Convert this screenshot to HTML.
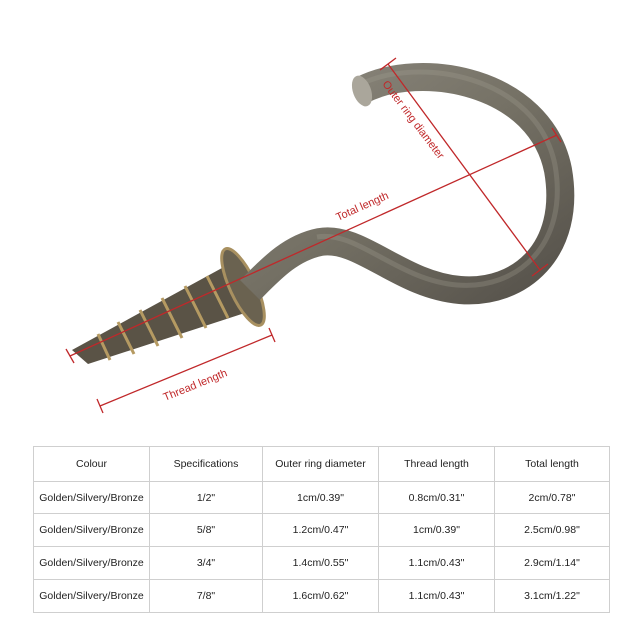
<!DOCTYPE html>
<html><head><meta charset="utf-8"><style>
html,body{margin:0;padding:0;background:#fff;}
body{width:640px;height:640px;position:relative;overflow:hidden;font-family:"Liberation Sans",sans-serif;}
table{position:absolute;left:33px;top:446px;border-collapse:collapse;font-size:10.5px;color:#222;}
td{border:1px solid #cfcfcf;text-align:center;padding:0;}
</style></head><body>
<svg width="640" height="440" style="position:absolute;left:0;top:0">
<defs>
<linearGradient id="g" x1="0" y1="0" x2="1" y2="1">
<stop offset="0" stop-color="#8c887e"/><stop offset="0.5" stop-color="#747064"/><stop offset="1" stop-color="#55514a"/>
</linearGradient>
</defs>
<!-- thread body -->
<polygon points="72,350 222,268 254,310 88,364" fill="#5a5346"/>
<g stroke="#b59a62" stroke-width="3">
<line x1="98" y1="334" x2="110" y2="360"/>
<line x1="118" y1="322" x2="134" y2="354"/>
<line x1="140" y1="310" x2="158" y2="346"/>
<line x1="162" y1="298" x2="182" y2="338"/>
<line x1="185" y1="286" x2="206" y2="328"/>
<line x1="207" y1="276" x2="228" y2="318"/>
</g>
<!-- collar -->
<ellipse cx="243" cy="287" rx="13" ry="42" transform="rotate(-25 243 287)" fill="#6a6250" stroke="#a89060" stroke-width="3"/>
<!-- hook -->
<path d="M362,90 C420,60 540,80 558,170 C572,250 520,295 460,290 C400,285 360,235 320,242 C290,248 270,270 250,290" fill="none" stroke="url(#g)" stroke-width="28" stroke-linecap="butt"/>
<path d="M362,90 C420,60 540,80 558,170 C572,250 520,295 460,290 C400,285 360,235 320,242" fill="none" stroke="#a29e93" stroke-width="5" opacity="0.3" transform="translate(-3,-5)"/>
<ellipse cx="362" cy="91" rx="9" ry="16" transform="rotate(-20 362 91)" fill="#aaa69b"/>
<!-- red lines -->
<g stroke="#c0282a" stroke-width="1.3" fill="none">
<line x1="70" y1="356" x2="557" y2="135"/>
<line x1="66" y1="349" x2="74" y2="363"/><line x1="552" y1="128" x2="561" y2="142"/>
<line x1="388" y1="64" x2="540" y2="270"/>
<line x1="380" y1="70" x2="396" y2="58"/><line x1="532" y1="276" x2="548" y2="264"/>
<line x1="100" y1="406" x2="272" y2="335"/>
<line x1="97" y1="399" x2="103" y2="413"/><line x1="269" y1="328" x2="275" y2="342"/>
</g>
<g fill="#c0282a" font-size="11" font-family="Liberation Sans,sans-serif">
<text x="338" y="221" transform="rotate(-24 338 221)">Total length</text>
<text x="165" y="401" transform="rotate(-22 165 401)">Thread length</text>
<text x="382" y="84" transform="rotate(53 382 84)">Outer ring diameter</text>
</g>
</svg>
<table>
<tr style="height:35px"><td style="width:115px">Colour</td><td style="width:112px">Specifications</td><td style="width:115px">Outer ring diameter</td><td style="width:115px">Thread length</td><td style="width:114px">Total length</td></tr>
<tr style="height:32px"><td>Golden/Silvery/Bronze</td><td>1/2"</td><td>1cm/0.39"</td><td>0.8cm/0.31"</td><td>2cm/0.78"</td></tr>
<tr style="height:33px"><td>Golden/Silvery/Bronze</td><td>5/8"</td><td>1.2cm/0.47"</td><td>1cm/0.39"</td><td>2.5cm/0.98"</td></tr>
<tr style="height:33px"><td>Golden/Silvery/Bronze</td><td>3/4"</td><td>1.4cm/0.55"</td><td>1.1cm/0.43"</td><td>2.9cm/1.14"</td></tr>
<tr style="height:33px"><td>Golden/Silvery/Bronze</td><td>7/8"</td><td>1.6cm/0.62"</td><td>1.1cm/0.43"</td><td>3.1cm/1.22"</td></tr>
</table>
</body></html>
